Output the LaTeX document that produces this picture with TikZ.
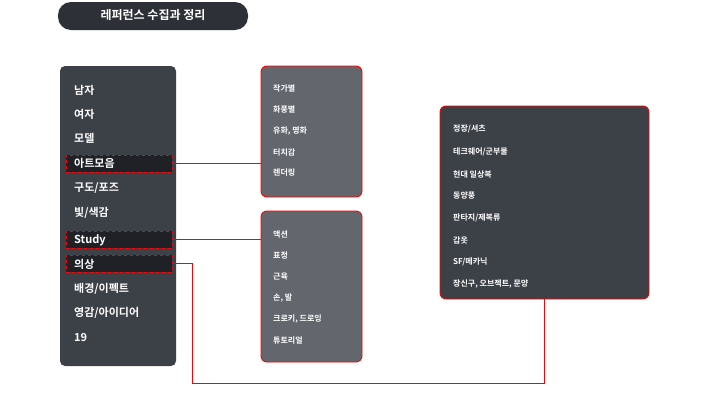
\documentclass[tikz,border=0pt]{standalone}
\usepackage{fontspec}
\setmainfont{Noto Sans CJK KR}[BoldFont={Noto Sans CJK KR Bold}]
\begin{document}
\begin{tikzpicture}[x=1pt,y=-1pt,
  panel/.style={draw=none,rounded corners=5pt},
  rpanel/.style={draw=red,line width=0.9pt,rounded corners=6pt},
  hl/.style={fill=hlc,draw=red,dashed,line width=0.5pt},
  big/.style={anchor=west,text=white,font=\fontsize{11}{11}\selectfont\bfseries,inner sep=0pt},
  small/.style={anchor=west,text=white,font=\fontsize{8}{8}\selectfont\bfseries,inner sep=0pt},
  conn/.style={draw=red,line width=0.8pt}]
\definecolor{dk}{HTML}{3C4047}
\definecolor{gr}{HTML}{63666D}
\definecolor{hlc}{HTML}{1F2126}
\definecolor{tt}{HTML}{2D3036}
\fill[white] (0,0) rectangle (720,405);
\useasboundingbox (0,0) rectangle (720,405);
% title
\fill[tt,rounded corners=13pt] (58,2) rectangle (248,30);
\node[text=white,font=\fontsize{12}{12}\selectfont\bfseries] (title) at (153,15) {레퍼런스 수집과 정리};
% left panel
\fill[dk,panel] (60,66) rectangle (176,366);
\node[hl,minimum width=106,minimum height=17,inner sep=0pt] (h1) at (119,163.5) {};
\node[hl,minimum width=106,minimum height=17,inner sep=0pt] (h2) at (119,239.5) {};
\node[hl,minimum width=106,minimum height=17,inner sep=0pt] (h3) at (119,263.5) {};
\node[big] (l1) at (74,90) {남자};
\node[big] (l2) at (74,114) {여자};
\node[big] (l3) at (74,138) {모델};
\node[big] (l4) at (74,163) {아트모음};
\node[big] (l5) at (74,188) {구도/포즈};
\node[big] (l6) at (74,213) {빛/색감};
\node[big] (l7) at (74,240) {Study};
\node[big] (l8) at (74,264) {의상};
\node[big] (l9) at (74,289) {배경/이펙트};
\node[big] (l10) at (74,313) {영감/아이디어};
\node[big] (l11) at (74,338) {19};
% box 2
\filldraw[fill=gr,rpanel] (261,66) rectangle (362,197);
\coordinate (b2) at (261,163.5);
\node[small] at (273,88) {작가별};
\node[small] at (273,110) {화풍별};
\node[small] at (273,131) {유화, 명화};
\node[small] at (273,152) {터치감};
\node[small] at (273,173) {렌더링};
% box 3
\filldraw[fill=gr,rpanel] (261,211) rectangle (362,362);
\coordinate (b3) at (261,239.5);
\node[small] at (273,235) {액션};
\node[small] at (273,256) {표정};
\node[small] at (273,277) {근육};
\node[small] at (273,298) {손, 발};
\node[small] at (273,319) {크로키, 드로잉};
\node[small] at (273,340) {튜토리얼};
% box 4
\filldraw[fill=dk,rpanel] (440,106) rectangle (649,299);
\coordinate (b4) at (544,299);
\node[small] at (453,129) {정장/셔츠};
\node[small] at (453,152) {테크웨어/군부물};
\node[small] at (453,174) {현대 일상복};
\node[small] at (453,196) {동양풍};
\node[small] at (453,218) {판타지/제복류};
\node[small] at (453,240) {갑옷};
\node[small] at (453,262) {SF/메카닉};
\node[small] at (453,284) {장신구, 오브젝트, 문양};
% connectors
\draw[conn] (h1.east) -- (b2);
\draw[conn] (h2.east) -- (b3);
\draw[conn] (h3.east) -- (192,263.5) -- (192,383) -- (544,383) -- (b4);
\end{tikzpicture}
\end{document}
